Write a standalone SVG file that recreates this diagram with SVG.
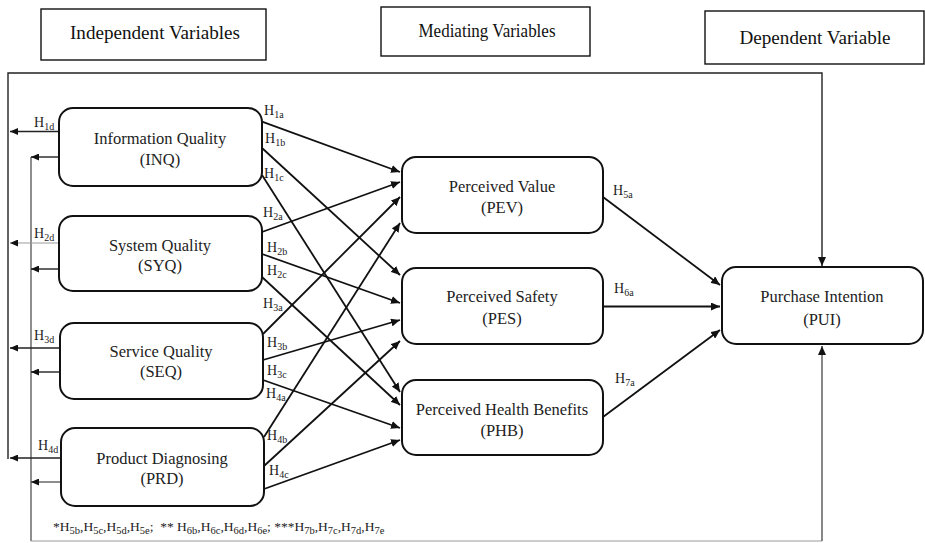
<svg xmlns="http://www.w3.org/2000/svg" width="925" height="543" viewBox="0 0 925 543">
<style>
  .hdr { fill: #fff; stroke: #111; stroke-width: 1.4; }
  .hdrt { font-family: "Liberation Serif", "Times New Roman", serif; font-size: 19px; fill: #111; text-anchor: middle; }
  .node { fill: #fff; stroke: #111; stroke-width: 2; }
  .nt { font-family: "Liberation Serif", "Times New Roman", serif; font-size: 16.5px; fill: #222; text-anchor: middle; }
  .lbl { font-family: "Liberation Serif", "Times New Roman", serif; font-size: 14px; fill: #222; }
  .sub { font-size: 10px; }
  .fn { font-family: "Liberation Serif", "Times New Roman", serif; font-size: 13.5px; fill: #222; }
  .fns { font-size: 10.5px; }
  .c { fill: none; stroke: #111; stroke-width: 1.8; }
  .cl { fill: none; stroke: #222; stroke-width: 1.4; }
  .cg { fill: none; stroke: #9a9a9a; stroke-width: 1; }
  .cd { fill: none; stroke: #444; stroke-width: 1.2; }
</style>
<defs>
  <marker id="ah" markerUnits="userSpaceOnUse" markerWidth="10" markerHeight="8" refX="9" refY="4" orient="auto">
    <path d="M0,0 L9,4 L0,8 z" fill="#111"/>
  </marker>
  <marker id="ahs" markerUnits="userSpaceOnUse" markerWidth="9" markerHeight="7" refX="8" refY="3.5" orient="auto">
    <path d="M0,0 L8,3.5 L0,7 z" fill="#111"/>
  </marker>
</defs>
<rect width="925" height="543" fill="#fff"/>

<g id="header-independent">
  <rect class="hdr" x="41" y="9" width="225" height="51"/>
  <text class="hdrt" x="155" y="39" textLength="170" lengthAdjust="spacingAndGlyphs">Independent Variables</text>
</g>
<g id="header-mediating">
  <rect class="hdr" x="381" y="7" width="209" height="49"/>
  <text class="hdrt" x="487" y="37" textLength="137" lengthAdjust="spacingAndGlyphs">Mediating Variables</text>
</g>
<g id="header-dependent">
  <rect class="hdr" x="705" y="11" width="219" height="53"/>
  <text class="hdrt" x="815" y="44" textLength="151" lengthAdjust="spacingAndGlyphs">Dependent Variable</text>
</g>

<g id="connectors">
  <path class="cl" d="M8,459 V73 H822 V266" marker-end="url(#ah)"/>
  <path class="cd" d="M31,157 V541"/>
  <path class="cg" d="M31,541 H822"/>
  <path style="fill:none;stroke:#555;stroke-width:1.4" d="M822,541 V346" marker-end="url(#ah)"/>
  <line class="cl" x1="59" y1="131.5" x2="10" y2="131.5" marker-end="url(#ahs)"/>
  <line class="cg" x1="59" y1="243" x2="10" y2="243" marker-end="url(#ahs)"/>
  <line class="cl" x1="60" y1="348" x2="10" y2="348" marker-end="url(#ahs)"/>
  <line class="cl" x1="61" y1="458" x2="10" y2="458" marker-end="url(#ahs)"/>
  <line class="cl" x1="59" y1="157" x2="31" y2="157" marker-end="url(#ahs)"/>
  <line class="cl" x1="59" y1="269" x2="31" y2="269" marker-end="url(#ahs)"/>
  <line class="cl" x1="60" y1="372" x2="31" y2="372" marker-end="url(#ahs)"/>
  <line class="cd" x1="61" y1="482" x2="31" y2="482" marker-end="url(#ahs)"/>
  <line class="c" x1="262" y1="121.7" x2="400" y2="172" marker-end="url(#ah)"/>
  <line class="c" x1="262" y1="148" x2="400" y2="275" marker-end="url(#ah)"/>
  <line class="c" x1="262" y1="175" x2="400" y2="392" marker-end="url(#ah)"/>
  <line class="c" x1="262" y1="232" x2="400" y2="182" marker-end="url(#ah)"/>
  <line class="c" x1="262" y1="254" x2="400" y2="303" marker-end="url(#ah)"/>
  <line class="c" x1="262" y1="277" x2="400" y2="405" marker-end="url(#ah)"/>
  <line class="c" x1="263" y1="334" x2="400" y2="197" marker-end="url(#ah)"/>
  <line class="c" x1="263" y1="360" x2="400" y2="320" marker-end="url(#ah)"/>
  <line class="c" x1="263" y1="380" x2="400" y2="428" marker-end="url(#ah)"/>
  <line class="c" x1="264" y1="437" x2="400" y2="223" marker-end="url(#ah)"/>
  <line class="c" x1="264" y1="466" x2="400" y2="341" marker-end="url(#ah)"/>
  <line class="c" x1="264" y1="489" x2="400" y2="440" marker-end="url(#ah)"/>
  <line class="c" x1="603" y1="197" x2="720" y2="285" marker-end="url(#ah)"/>
  <line class="c" x1="603" y1="306.5" x2="720" y2="306.5" marker-end="url(#ah)"/>
  <line class="c" x1="603" y1="417" x2="720" y2="330" marker-end="url(#ah)"/>
</g>

<g id="INQ">
  <rect class="node" x="59" y="108" width="203" height="78" rx="14"/>
  <text class="nt" x="160" y="143.5">Information Quality</text>
  <text class="nt" x="160" y="164.5">(INQ)</text>
</g>
<g id="SYQ">
  <rect class="node" x="59" y="216" width="203" height="75" rx="14"/>
  <text class="nt" x="160" y="250.5">System Quality</text>
  <text class="nt" x="160" y="270.5">(SYQ)</text>
</g>
<g id="SEQ">
  <rect class="node" x="60" y="323" width="203" height="76" rx="14"/>
  <text class="nt" x="161" y="356.5">Service Quality</text>
  <text class="nt" x="161" y="377">(SEQ)</text>
</g>
<g id="PRD">
  <rect class="node" x="61" y="428" width="203" height="78" rx="14"/>
  <text class="nt" x="162" y="463.5">Product Diagnosing</text>
  <text class="nt" x="162" y="484">(PRD)</text>
</g>
<g id="PEV">
  <rect class="node" x="402" y="157" width="201" height="76" rx="14"/>
  <text class="nt" x="502" y="192">Perceived Value</text>
  <text class="nt" x="502" y="213">(PEV)</text>
</g>
<g id="PES">
  <rect class="node" x="402" y="268" width="201" height="76" rx="14"/>
  <text class="nt" x="502" y="302">Perceived Safety</text>
  <text class="nt" x="502" y="324">(PES)</text>
</g>
<g id="PHB">
  <rect class="node" x="402" y="380" width="201" height="75" rx="14"/>
  <text class="nt" x="502" y="415">Perceived Health Benefits</text>
  <text class="nt" x="502" y="436">(PHB)</text>
</g>
<g id="PUI">
  <rect class="node" x="722" y="267" width="201" height="77" rx="14"/>
  <text class="nt" x="822" y="302">Purchase Intention</text>
  <text class="nt" x="822" y="325">(PUI)</text>
</g>

<g id="labels">
  <text class="lbl" x="264" y="115">H<tspan class="sub" dy="3">1a</tspan></text>
  <text class="lbl" x="265" y="143">H<tspan class="sub" dy="3">1b</tspan></text>
  <text class="lbl" x="264" y="178">H<tspan class="sub" dy="3">1c</tspan></text>
  <text class="lbl" x="34" y="127">H<tspan class="sub" dy="3">1d</tspan></text>
  <text class="lbl" x="263" y="217">H<tspan class="sub" dy="3">2a</tspan></text>
  <text class="lbl" x="267" y="252">H<tspan class="sub" dy="3">2b</tspan></text>
  <text class="lbl" x="267" y="275">H<tspan class="sub" dy="3">2c</tspan></text>
  <text class="lbl" x="34" y="238">H<tspan class="sub" dy="3">2d</tspan></text>
  <text class="lbl" x="263" y="308">H<tspan class="sub" dy="3">3a</tspan></text>
  <text class="lbl" x="267" y="347">H<tspan class="sub" dy="3">3b</tspan></text>
  <text class="lbl" x="267" y="375">H<tspan class="sub" dy="3">3c</tspan></text>
  <text class="lbl" x="34" y="340">H<tspan class="sub" dy="3">3d</tspan></text>
  <text class="lbl" x="266" y="398">H<tspan class="sub" dy="3">4a</tspan></text>
  <text class="lbl" x="267" y="440">H<tspan class="sub" dy="3">4b</tspan></text>
  <text class="lbl" x="269" y="475">H<tspan class="sub" dy="3">4c</tspan></text>
  <text class="lbl" x="38" y="450">H<tspan class="sub" dy="3">4d</tspan></text>
  <text class="lbl" x="613" y="195">H<tspan class="sub" dy="3">5a</tspan></text>
  <text class="lbl" x="614" y="293">H<tspan class="sub" dy="3">6a</tspan></text>
  <text class="lbl" x="615" y="383">H<tspan class="sub" dy="3">7a</tspan></text>
</g>

<g id="footnote">
  <text class="fn" x="53" y="531">*H<tspan class="fns" dy="2.5">5b</tspan><tspan dy="-2.5">,H</tspan><tspan class="fns" dy="2.5">5c</tspan><tspan dy="-2.5">,H</tspan><tspan class="fns" dy="2.5">5d</tspan><tspan dy="-2.5">,H</tspan><tspan class="fns" dy="2.5">5e</tspan><tspan dy="-2.5" xml:space="preserve">;  ** H</tspan><tspan class="fns" dy="2.5">6b</tspan><tspan dy="-2.5">,H</tspan><tspan class="fns" dy="2.5">6c</tspan><tspan dy="-2.5">,H</tspan><tspan class="fns" dy="2.5">6d</tspan><tspan dy="-2.5">,H</tspan><tspan class="fns" dy="2.5">6e</tspan><tspan dy="-2.5" xml:space="preserve">; ***H</tspan><tspan class="fns" dy="2.5">7b</tspan><tspan dy="-2.5">,H</tspan><tspan class="fns" dy="2.5">7c</tspan><tspan dy="-2.5">,H</tspan><tspan class="fns" dy="2.5">7d</tspan><tspan dy="-2.5">,H</tspan><tspan class="fns" dy="2.5">7e</tspan></text>
</g>
</svg>
